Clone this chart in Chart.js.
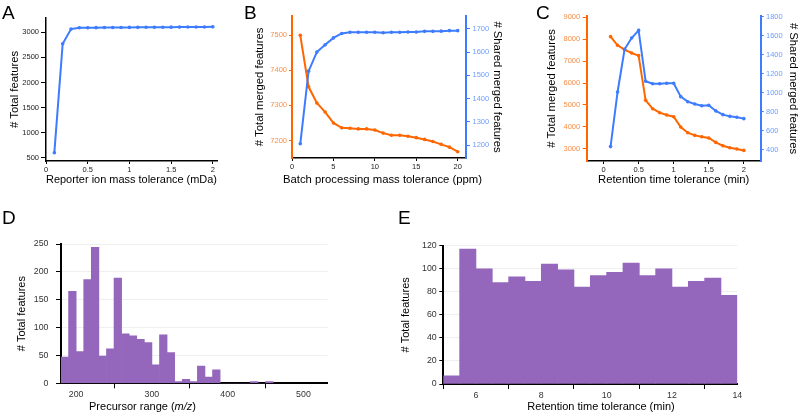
<!DOCTYPE html>
<html>
<head>
<meta charset="utf-8">
<script src="https://cdn.jsdelivr.net/npm/chart.js@4.4.1/dist/chart.umd.min.js"></script>
<style>
  html, body { margin: 0; padding: 0; background: #fff; overflow: hidden; }
  #fig { position: relative; width: 800px; height: 413px; font-family: "Liberation Sans", Arial, sans-serif; }
  #fig canvas { position: absolute; }
  .tag { position: absolute; font-size: 19px; line-height: 1; color: #000; }
</style>
</head>
<body>
<div id="fig">
  <canvas id="chartA" width="232" height="195" style="left:0px;top:0px"></canvas>
  <canvas id="chartB" width="260" height="195" style="left:250px;top:0px"></canvas>
  <canvas id="chartC" width="260" height="195" style="left:540px;top:0px"></canvas>
  <canvas id="chartD" width="340" height="220" style="left:0px;top:200px"></canvas>
  <canvas id="chartE" width="365" height="220" style="left:395px;top:200px"></canvas>
  <div class="tag" style="left:2px;top:3px">A</div>
  <div class="tag" style="left:244px;top:3px">B</div>
  <div class="tag" style="left:536px;top:3px">C</div>
  <div class="tag" style="left:2px;top:208px">D</div>
  <div class="tag" style="left:398px;top:208px">E</div>
</div>
<script>
// Panel A: reporter ion mass tolerance
const reporterTol = [0.1, 0.2, 0.3, 0.4, 0.5, 0.6, 0.7, 0.8, 0.9, 1.0, 1.1, 1.2, 1.3, 1.4, 1.5, 1.6, 1.7, 1.8, 1.9, 2.0];
const reporterTotal = [605, 2770, 3060, 3085, 3086, 3088, 3090, 3091, 3092, 3093, 3094, 3095, 3096, 3097, 3098, 3099, 3100, 3101, 3102, 3104];
const aXTicks = [0, 0.5, 1, 1.5, 2];
const aYTicks = [500, 1000, 1500, 2000, 2500, 3000];

// Panel B: batch processing mass tolerance
const batchTol = [1, 2, 3, 4, 5, 6, 7, 8, 9, 10, 11, 12, 13, 14, 15, 16, 17, 18, 19, 20];
const batchTotal = [7500, 7353, 7307, 7281, 7250, 7236, 7235, 7233, 7233, 7230, 7221, 7215, 7215, 7212, 7208, 7203, 7197, 7189, 7181, 7168];
const batchShared = [1206, 1518, 1600, 1631, 1661, 1680, 1685, 1685, 1685, 1685, 1683, 1685, 1685, 1686, 1686, 1689, 1689, 1690, 1692, 1692];
const bXTicks = [0, 5, 10, 15, 20];
const bLeftTicks = [7200, 7300, 7400, 7500];
const bRightTicks = [1200, 1300, 1400, 1500, 1600, 1700];

// Panel C: retention time tolerance
const rtTol = [0.1, 0.2, 0.3, 0.4, 0.5, 0.6, 0.7, 0.8, 0.9, 1.0, 1.1, 1.2, 1.3, 1.4, 1.5, 1.6, 1.7, 1.8, 1.9, 2.0];
const rtTotal = [8117, 7720, 7523, 7370, 7250, 5208, 4827, 4645, 4540, 4462, 3990, 3730, 3610, 3550, 3490, 3290, 3137, 3046, 2985, 2924];
const rtShared = [435, 1009, 1457, 1576, 1656, 1121, 1096, 1096, 1100, 1100, 960, 907, 883, 865, 869, 810, 771, 753, 743, 729];
const cXTicks = [0, 0.5, 1, 1.5, 2];
const cLeftTicks = [3000, 4000, 5000, 6000, 7000, 8000, 9000];
const cRightTicks = [400, 600, 800, 1000, 1200, 1400, 1600, 1800];

// Panel D: precursor m/z histogram (bin centres, 10 m/z wide)
const mzBins = [185, 195, 205, 215, 225, 235, 245, 255, 265, 275, 285, 295, 305, 315, 325, 335, 345, 355, 365, 375, 385, 395, 405, 415, 425, 435, 445, 455];
const mzCounts = [47, 165, 57, 186, 244, 49, 62, 189, 89, 85, 79, 73, 33, 87, 55, 3, 7, 3, 31, 11, 24, 0, 0, 0, 0, 3, 0, 3];
const dXTicks = [200, 300, 400, 500];
const dYTicks = [0, 50, 100, 150, 200, 250];

// Panel E: retention time histogram (bin centres, 0.5 min wide)
const rtBins = [5.25, 5.75, 6.25, 6.75, 7.25, 7.75, 8.25, 8.75, 9.25, 9.75, 10.25, 10.75, 11.25, 11.75, 12.25, 12.75, 13.25, 13.75];
const rtCounts = [7, 117, 100, 88, 93, 89, 104, 99, 84, 94, 97, 105, 94, 100, 84, 89, 92, 77];
const eXTicks = [6, 8, 10, 12, 14];
const eYTicks = [0, 20, 40, 60, 80, 100, 120];

// Colours
const ORANGE = '#ff6600';
const ORANGE_TXT = '#f7904a';
const BLUE = '#3d7cff';
const BLUE_TXT = '#6e9dff';
const PURPLE = '#9467bd';
const FONT = "'Liberation Sans', Arial, sans-serif";

Chart.defaults.font.family = FONT;
Chart.defaults.animation = false;

function fixedTicks(values) {
    return function(scale) {
        scale.ticks = values.map(v => ({ value: v }));
    };
}

function pts(xs, ys) {
    return xs.map((x, i) => ({ x: x, y: ys[i] }));
}

// draws an axis title made of plain / italic parts at a given centre
const partTitle = {
    id: 'partTitle',
    afterDraw(chart, args, opts) {
        if (!opts || !opts.parts) return;
        const ctx = chart.ctx;
        const fonts = opts.parts.map(p => (p.italic ? 'italic ' : '') + opts.size + 'px ' + FONT);
        let total = 0;
        opts.parts.forEach((p, i) => { ctx.font = fonts[i]; total += ctx.measureText(p.text).width; });
        ctx.save();
        ctx.fillStyle = '#000';
        ctx.textBaseline = 'middle';
        let x = opts.x - total / 2;
        opts.parts.forEach((p, i) => {
            ctx.font = fonts[i];
            ctx.fillText(p.text, x, opts.y);
            x += ctx.measureText(p.text).width;
        });
        ctx.restore();
    }
};

function lineSet(data, color, axisId, order) {
    return {
        data: data,
        borderColor: color,
        backgroundColor: color,
        borderWidth: 2,
        pointRadius: 1.8,
        pointBorderWidth: 0,
        yAxisID: axisId,
        order: order
    };
}

function xAxis(min, max, ticks, title, height) {
    return {
        type: 'linear',
        min: min,
        max: max,
        afterBuildTicks: fixedTicks(ticks),
        afterFit: function(scale) { scale.height = height; },
        grid: { drawOnChartArea: false, tickLength: 3, tickColor: '#000' },
        border: { color: '#000', width: 1.5 },
        ticks: { color: '#222', font: { size: 7.5 }, padding: 1, maxRotation: 0, callback: v => String(v) },
        title: { display: !!title, text: title || '', color: '#000', font: { size: 11.3 }, padding: { top: 0, bottom: 8.4 } }
    };
}

function yAxis(pos, min, max, ticks, title, width, color, txtColor, titlePad, tickLen, tickPad) {
    return {
        type: 'linear',
        position: pos,
        min: min,
        max: max,
        afterBuildTicks: fixedTicks(ticks),
        afterFit: function(scale) { scale.width = width; },
        grid: { drawOnChartArea: false, tickLength: tickLen, tickColor: color },
        border: { color: color, width: color === '#000' ? 1.5 : 2 },
        ticks: { color: txtColor, font: { size: 7.5 }, padding: tickPad, callback: v => String(v) },
        title: { display: true, text: title, color: '#000', font: { size: 11.3 }, padding: { top: titlePad, bottom: 0 } }
    };
}

const noPlugins = { legend: { display: false }, tooltip: { enabled: false } };

// Panel A
new Chart(document.getElementById('chartA'), {
    type: 'line',
    data: { datasets: [lineSet(pts(reporterTol, reporterTotal), BLUE, 'y', 0)] },
    options: {
        responsive: false,
        layout: { padding: { top: 18, right: 15, left: 0, bottom: 0 } },
        scales: {
            x: xAxis(0, 2.05, aXTicks, 'Reporter ion mass tolerance (mDa)', 34),
            y: yAxis('left', 440, 3280, aYTicks, '# Total features', 46, '#000', '#222', 8.2, 5, 2)
        },
        plugins: noPlugins
    }
});

// Panel B (x title drawn by plugin so it is not squeezed)
new Chart(document.getElementById('chartB'), {
    type: 'line',
    data: {
        datasets: [
            lineSet(pts(batchTol, batchTotal), ORANGE, 'yL', 1),
            lineSet(pts(batchTol, batchShared), BLUE, 'yR', 0)
        ]
    },
    plugins: [partTitle],
    options: {
        responsive: false,
        layout: { padding: { top: 16, right: 0, left: 0, bottom: 0 } },
        scales: {
            x: xAxis(0, 21, bXTicks, null, 37),
            yL: yAxis('left', 7150, 7555, bLeftTicks, '# Total merged features', 42, ORANGE, ORANGE_TXT, 3.4, 3, 2),
            yR: yAxis('right', 1145, 1755, bRightTicks, '# Shared merged features', 44, BLUE, BLUE_TXT, 5.8, 4, 2.5)
        },
        plugins: {
            legend: { display: false },
            tooltip: { enabled: false },
            partTitle: {
                x: 132.5, y: 179.5, size: 11.3,
                parts: [{ text: 'Batch processing mass tolerance (ppm)' }]
            }
        }
    }
});

// Panel C
new Chart(document.getElementById('chartC'), {
    type: 'line',
    data: {
        datasets: [
            lineSet(pts(rtTol, rtTotal), ORANGE, 'yL', 1),
            lineSet(pts(rtTol, rtShared), BLUE, 'yR', 0)
        ]
    },
    options: {
        responsive: false,
        layout: { padding: { top: 16, right: 0, left: 0, bottom: 0 } },
        scales: {
            x: xAxis(-0.24, 2.24, cXTicks, 'Retention time tolerance (min)', 34),
            yL: yAxis('left', 2440, 9060, cLeftTicks, '# Total merged features', 46.7, ORANGE, ORANGE_TXT, 5.2, 4, 2.5),
            yR: yAxis('right', 284, 1807, cRightTicks, '# Shared merged features', 39.3, BLUE, BLUE_TXT, 0, 3, 2.3)
        },
        plugins: noPlugins
    }
});

// histogram axes for D and E
function histX(min, max, ticks, height) {
    return {
        type: 'linear',
        min: min,
        max: max,
        offset: false,
        afterBuildTicks: fixedTicks(ticks),
        afterFit: function(scale) { scale.height = height; },
        grid: { drawOnChartArea: false, tickLength: 5, tickColor: '#000' },
        border: { color: '#000', width: 2 },
        ticks: { color: '#333', font: { size: 8.8 }, padding: 1, maxRotation: 0, callback: v => String(v) }
    };
}

function histY(max, ticks, width, titlePad, tickLen, tickPad) {
    return {
        type: 'linear',
        min: 0,
        max: max,
        afterBuildTicks: fixedTicks(ticks),
        afterFit: function(scale) { scale.width = width; },
        grid: { color: '#efefef', tickLength: tickLen, tickColor: '#000' },
        border: { color: '#000', width: 2 },
        ticks: { color: '#333', font: { size: 8.8 }, padding: tickPad, callback: v => String(v) },
        title: { display: true, text: '# Total features', color: '#000', font: { size: 11 }, padding: { top: titlePad, bottom: 0 } }
    };
}

function histSet(data) {
    return {
        data: data,
        backgroundColor: PURPLE,
        borderWidth: 0,
        barPercentage: 1,
        categoryPercentage: 1
    };
}

// Panel D
new Chart(document.getElementById('chartD'), {
    type: 'bar',
    data: { datasets: [histSet(pts(mzBins, mzCounts))] },
    plugins: [partTitle],
    options: {
        responsive: false,
        layout: { padding: { top: 44, right: 12.3, left: 0, bottom: 0 } },
        scales: {
            x: histX(180, 532, dXTicks, 36.7),
            y: histY(250, dYTicks, 61, 15.4, 5, 7.5)
        },
        plugins: {
            legend: { display: false },
            tooltip: { enabled: false },
            partTitle: {
                x: 142.5, y: 206.7, size: 11,
                parts: [{ text: 'Precursor range (' }, { text: 'm/z', italic: true }, { text: ')' }]
            }
        }
    }
});

// Panel E
new Chart(document.getElementById('chartE'), {
    type: 'bar',
    data: { datasets: [histSet(pts(rtBins, rtCounts))] },
    plugins: [partTitle],
    options: {
        responsive: false,
        layout: { padding: { top: 45.7, right: 22.7, left: 0, bottom: 0 } },
        scales: {
            x: histX(5, 14, eXTicks, 36),
            y: histY(120, eYTicks, 48.3, 4.4, 4, 2.6)
        },
        plugins: {
            legend: { display: false },
            tooltip: { enabled: false },
            partTitle: {
                x: 206, y: 206.7, size: 11,
                parts: [{ text: 'Retention time tolerance (min)' }]
            }
        }
    }
});
</script>
</body>
</html>
